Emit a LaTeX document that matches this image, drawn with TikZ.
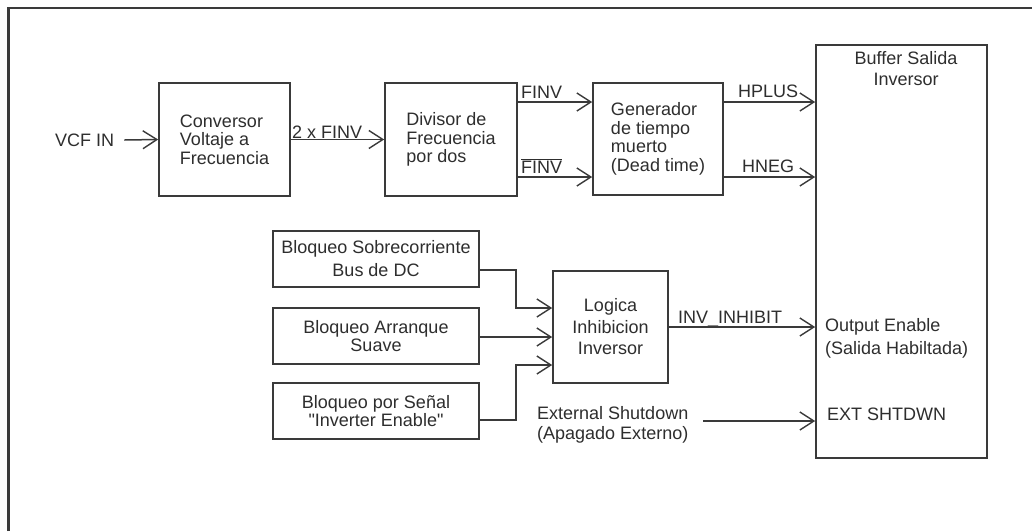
\documentclass[tikz,border=0pt]{standalone}
\usepackage{fontspec}
\setmainfont{Liberation Sans}
\usetikzlibrary{arrows.meta}
\definecolor{ink}{HTML}{2E2E2E}
\definecolor{edge}{HTML}{3A3A3A}
\begin{document}
\begin{tikzpicture}[x=1pt,y=-1pt,
  every node/.style={text=ink, font=\fontsize{18}{18.5}\selectfont},
  box/.style={draw=edge, line width=1.7pt, rectangle, inner sep=0pt},
  lbl/.style={inner sep=0pt},
  arr/.style={draw=edge, line width=1.5pt, -{Straight Barb[length=14pt,width=18pt,line width=1.4pt]}},
  wire/.style={draw=edge, line width=1.5pt}]
\useasboundingbox (0,0) rectangle (1032,531);
\fill[white] (0,0) rectangle (1032,531);
% frame
\draw[edge, line width=2.2pt] (8.5,531) -- (8.5,8) -- (1032,8);

% top row boxes
\node[box, minimum width=131, minimum height=113, align=left] (conv) at (224.5,139.5) {Conversor\\Voltaje a\\Frecuencia};
\node[box, minimum width=132, minimum height=113, align=left] (div) at (451,139.5) {Divisor de\\Frecuencia\\por dos};
\node[box, minimum width=130, minimum height=112, align=left] (gen) at (658,139) {Generador\\de tiempo\\muerto\\(Dead time)};
\node[box, minimum width=171, minimum height=413] (buf) at (901.5,251.5) {};
\node[lbl, align=center, font=\fontsize{18}{21}\selectfont] (buft) at (906,68.5) {Buffer Salida\\Inversor};

% bottom left boxes
\node[box, minimum width=206, minimum height=56, align=center, font=\fontsize{18}{23}\selectfont] (b1) at (376,259) {Bloqueo Sobrecorriente\\Bus de DC};
\node[box, minimum width=206, minimum height=56, align=center] (b2) at (376,336) {Bloqueo Arranque\\Suave};
\node[box, minimum width=206, minimum height=56, align=center] (b3) at (376,411) {Bloqueo por Señal\\\textquotedbl Inverter Enable\textquotedbl};
\node[box, minimum width=115, minimum height=112, align=center, font=\fontsize{18}{21.5}\selectfont] (logic) at (610.5,327) {Logica\\Inhibicion\\Inversor};

% labels
\node[lbl, anchor=west] (vcf) at (55,140) {VCF IN};
\node[lbl, anchor=base west] (l2f) at (292,138) {2 x FINV};
\node[lbl, anchor=base west] (lf1) at (521,98) {FINV};
\node[lbl, anchor=base west] (lf2) at (521,173) {$\overline{\mbox{FINV}}$};
\node[lbl, anchor=base west] (lhp) at (738,97) {HPLUS};
\node[lbl, anchor=base west] (lhn) at (742,172) {HNEG};
\node[lbl, anchor=base west] (linh) at (678,323) {INV\_INHIBIT};
\node[lbl, anchor=west, align=left, font=\fontsize{18}{23}\selectfont] (oen) at (825,338.5) {Output Enable\\(Salida Habiltada)};
\node[lbl, anchor=west] (ext) at (827,414) {EXT SHTDWN};
\node[lbl, anchor=west, align=left, font=\fontsize{18}{20}\selectfont] (exs) at (537,425) {External Shutdown\\(Apagado Externo)};

% connectors
\draw[arr] ([xshift=10pt]vcf.east) -- (conv.west);
\draw[arr] (conv.east) -- (div.west |- conv.east);
\draw[arr] (div.east |- 0,102) -- (gen.west |- 0,102);
\draw[arr] (div.east |- 0,177) -- (gen.west |- 0,177);
\draw[arr] (gen.east |- 0,102) -- (buf.west |- 0,102);
\draw[arr] (gen.east |- 0,177) -- (buf.west |- 0,177);
\draw[arr] (b1.east |- 0,270) -| (516,308) -- (logic.west |- 0,308);
\draw[arr] (b2.east |- 0,337) -- (logic.west |- 0,337);
\draw[arr] (b3.east |- 0,420) -| (516,365) -- (logic.west |- 0,365);
\draw[arr] (logic.east |- 0,327) -- (buf.west |- 0,327);
\coordinate (extstart) at (703,421);
\draw[arr] (extstart) -- (buf.west |- extstart);
\end{tikzpicture}
\end{document}
